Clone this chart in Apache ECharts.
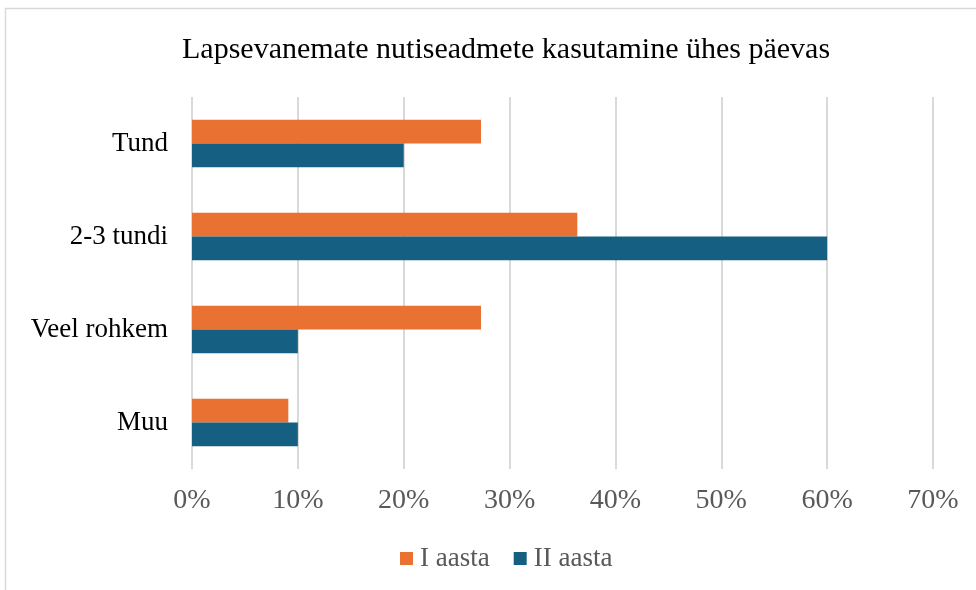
<!DOCTYPE html>
<html>
<head>
<meta charset="utf-8">
<script src="https://cdn.jsdelivr.net/npm/echarts@6/dist/echarts.min.js"></script>
<style>
  html, body { margin: 0; padding: 0; background: #fff; }
  #main { width: 976px; height: 590px; }
</style>
</head>
<body>
<div id="main"></div>
<script>
var categories = ['Tund', '2-3 tundi', 'Veel rohkem', 'Muu'];
var seriesNames = ['I aasta', 'II aasta'];
var aasta1 = [27.3, 36.4, 27.3, 9.1];
var aasta2 = [20, 60, 10, 10];

var myChart = echarts.init(document.getElementById('main'));
var font = '"Liberation Serif", "Times New Roman", serif';
option = {
    backgroundColor: '#fff',
    textStyle: { fontFamily: font },
    title: {
        text: 'Lapsevanemate nutiseadmete kasutamine ühes päevas',
        left: 177,
        top: 30,
        textStyle: { fontFamily: font, fontSize: 30, fontWeight: 'normal', color: '#000' }
    },
    graphic: [{
        type: 'rect',
        shape: { x: 5.5, y: 8.5, width: 1000, height: 1000 },
        style: { fill: 'none', stroke: '#d9d9d9', lineWidth: 1.5 },
        silent: true
    }],
    legend: {
        data: seriesNames,
        top: 540,
        left: 395,
        itemWidth: 13,
        itemHeight: 13,
        itemGap: 24,
        icon: 'rect',
        textStyle: { fontFamily: font, fontSize: 27, color: '#595959', padding: [0, 0, 0, 2] }
    },
    grid: { left: 192, right: 43, top: 97, bottom: 121, containLabel: false },
    xAxis: {
        type: 'value',
        min: 0,
        max: 70,
        interval: 10,
        axisLabel: {
            formatter: '{value}%',
            fontFamily: font,
            fontSize: 28,
            color: '#595959',
            margin: 18
        },
        axisLine: { show: false },
        axisTick: { show: false },
        splitLine: { lineStyle: { color: '#d9d9d9', width: 2 } }
    },
    yAxis: {
        type: 'category',
        data: categories,
        inverse: true,
        axisLine: { show: false },
        axisTick: { show: false },
        axisLabel: { fontFamily: font, fontSize: 27, color: '#000', margin: 24 }
    },
    series: [{
        name: seriesNames[0],
        type: 'bar',
        data: aasta1,
        barGap: '0%',
        barCategoryGap: '49%',
        itemStyle: { color: '#E97132' }
    }, {
        name: seriesNames[1],
        type: 'bar',
        data: aasta2,
        itemStyle: { color: '#156082' }
    }]
};
myChart.setOption(option);
</script>
</body>
</html>
